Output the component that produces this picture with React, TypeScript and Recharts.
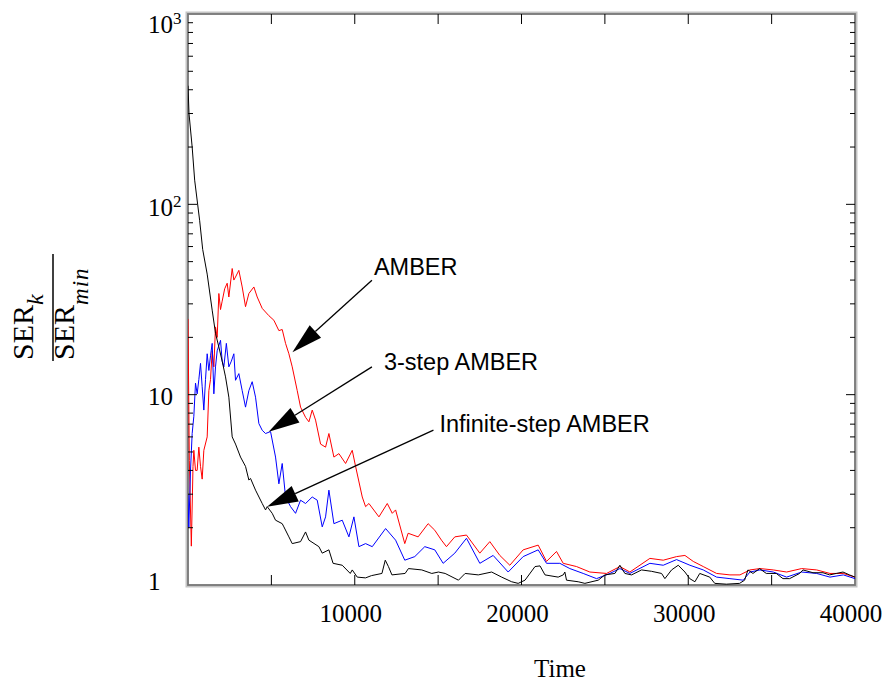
import React from 'react';
import { LineChart, Line, XAxis, YAxis, ReferenceLine, ReferenceArea } from 'recharts';

// ---------------------------------------------------------------------------
// Data (time, SER_k / SER_min)
// ---------------------------------------------------------------------------

const AMBER: [number, number][] = [
  [0, 25], [80, 4.5], [200, 1.6], [300, 4.2], [350, 5.1], [450, 4.0], [550, 4.0],
  [650, 5.3], [750, 4.2], [850, 3.6], [950, 5.1], [1150, 6.0], [1250, 10.5],
  [1350, 12], [1450, 17], [1550, 14], [1650, 22.7], [1750, 20], [1850, 34],
  [1950, 28], [2050, 31], [2200, 36], [2350, 38.5], [2450, 32.6], [2650, 46],
  [2750, 40], [2850, 41.5], [3050, 45], [3250, 36.8], [3450, 29], [3650, 34],
  [3950, 36.8], [4150, 32.6], [4450, 28.4], [4850, 26], [5150, 24.6], [5450, 21.7],
  [5650, 22], [5850, 18.6], [6050, 16.4], [6250, 14], [6550, 10.5], [6750, 8.6],
  [7050, 7.6], [7250, 7.2], [7450, 8.3], [7650, 7.35], [7950, 5.5], [8250, 5.3],
  [8450, 6.25], [8750, 4.7], [9050, 4.9], [9450, 4.35], [9850, 5.1], [10050, 4.2],
  [10450, 2.9], [10650, 2.58], [10850, 2.68], [11450, 2.28], [11950, 2.68],
  [12250, 2.38], [12450, 2.48], [13000, 1.65], [13200, 1.87], [13800, 1.79],
  [14400, 2.1], [14800, 1.94], [15200, 1.72], [15500, 1.59], [16000, 1.79],
  [16700, 1.83], [17500, 1.47], [18100, 1.69], [18700, 1.43], [19300, 1.27],
  [20100, 1.53], [21000, 1.62], [21500, 1.33], [22100, 1.5], [22500, 1.3],
  [23300, 1.25], [24100, 1.17], [25100, 1.15], [25900, 1.25], [26500, 1.17],
  [27700, 1.38], [28500, 1.35], [29300, 1.41], [29800, 1.43], [30300, 1.33],
  [30900, 1.25], [31700, 1.15], [32500, 1.13], [33100, 1.13], [33700, 1.2],
  [34300, 1.22], [35100, 1.2], [35900, 1.17], [36800, 1.22], [37700, 1.2],
  [38500, 1.15], [39300, 1.15], [40000, 1.1],
];

const AMBER_3STEP: [number, number][] = [
  [0, 3.0], [50, 2.0], [150, 4.0], [250, 6.25], [350, 7.7], [450, 11.5], [550, 10.1],
  [650, 12], [750, 14.6], [850, 11], [950, 8.3], [1050, 12], [1150, 16.4],
  [1250, 13.4], [1350, 16], [1450, 18.6], [1550, 10.1], [1650, 14], [1750, 17],
  [1950, 19.3], [2050, 15], [2150, 14], [2300, 18.6], [2450, 14], [2600, 15],
  [2750, 16.4], [2850, 11.9], [3050, 12.9], [3250, 10.5], [3450, 8.6], [3650, 10.5],
  [3850, 11.7], [4050, 9.7], [4250, 7.05], [4450, 6.5], [4650, 6.25], [4950, 6.4],
  [5250, 4.7], [5450, 3.4], [5650, 4.35], [5850, 2.9], [6150, 2.58], [6450, 2.38],
  [6750, 2.79], [7050, 2.68], [7450, 2.9], [7750, 2.79], [8050, 2.02], [8250, 2.28],
  [8450, 3.15], [8750, 2.1], [9250, 2.19], [9650, 1.79], [9950, 2.28], [10250, 1.59],
  [10650, 1.65], [11050, 1.59], [11850, 1.98], [12450, 1.72], [13000, 1.35],
  [13600, 1.41], [14200, 1.59], [14800, 1.53], [15300, 1.3], [16000, 1.47],
  [16700, 1.76], [17500, 1.3], [18300, 1.43], [19200, 1.17], [20100, 1.41],
  [21000, 1.53], [21500, 1.3], [22300, 1.3], [22900, 1.22], [23700, 1.15],
  [24500, 1.08], [25300, 1.15], [25900, 1.22], [26500, 1.15], [27700, 1.3],
  [28500, 1.27], [29300, 1.36], [30100, 1.27], [30900, 1.2], [31700, 1.1],
  [32500, 1.08], [33300, 1.06], [33700, 1.17], [34300, 1.2], [35100, 1.17],
  [35900, 1.1], [36800, 1.17], [37700, 1.15], [38500, 1.1], [39300, 1.13],
  [40000, 1.08],
];

const AMBER_INF: [number, number][] = [
  [0, 420], [60, 300], [250, 200], [400, 134], [700, 82], [880, 58], [1150, 43],
  [1450, 27.8], [1650, 21], [1850, 17.8], [2050, 15], [2250, 12.4], [2450, 9.7],
  [2650, 6.0], [2850, 5.5], [3150, 4.7], [3450, 4.2], [3650, 3.56], [3750, 3.63],
  [4050, 3.15], [4450, 2.68], [4650, 2.48], [4750, 2.58], [5050, 2.38], [5250, 2.19],
  [5650, 2.1], [5750, 2.02], [6050, 1.79], [6250, 1.65], [6750, 1.69], [7050, 1.9],
  [7250, 1.72], [7850, 1.59], [8050, 1.47], [8450, 1.53], [8700, 1.3], [9250, 1.27],
  [9730, 1.15], [9850, 1.2], [10150, 1.1], [10650, 1.09], [11000, 1.12],
  [11630, 1.15], [11830, 1.35], [12020, 1.25], [12230, 1.13], [13020, 1.15],
  [13220, 1.22], [14020, 1.2], [14620, 1.15], [15020, 1.17], [15420, 1.15],
  [16220, 1.06], [16620, 1.15], [17410, 1.13], [18210, 1.17], [18810, 1.1],
  [19410, 1.04], [19800, 1.02], [20210, 1.06], [20810, 1.25], [21110, 1.26],
  [21410, 1.13], [22200, 1.1], [22500, 1.13], [22600, 1.17], [22700, 1.06],
  [23400, 1.04], [23800, 1.02], [24600, 1.06], [25000, 1.13], [25600, 1.15],
  [25900, 1.27], [26200, 1.15], [26600, 1.13], [27200, 1.2], [27800, 1.18],
  [28400, 1.15], [28600, 1.08], [29000, 1.2], [29400, 1.27], [29800, 1.17],
  [30090, 1.08], [30400, 1.04], [30690, 1.15], [31290, 1.1], [31590, 1.02],
  [32290, 1.01], [33080, 1.02], [33380, 1.06], [33580, 1.2], [33880, 1.15],
  [34280, 1.22], [34680, 1.15], [35280, 1.15], [35680, 1.08], [36080, 1.08],
  [36680, 1.15], [36880, 1.2], [37480, 1.16], [38080, 1.16], [38480, 1.13],
  [38880, 1.15], [39280, 1.17], [39670, 1.13], [40000, 1.1],
];

const X_TICKS = [0, 5000, 10000, 15000, 20000, 25000, 30000, 35000, 40000];
const X_LABELS = [10000, 20000, 30000, 40000];
const Y_MAJOR = [1, 10, 100, 1000];
const Y_MINOR = [2, 3, 4, 5, 6, 7, 8, 9, 20, 30, 40, 50, 60, 70, 80, 90, 200, 300, 400, 500, 600, 700, 800, 900];

// annotation: label, tail point (time, value), arrow tip (time, value)
const NOTE_LABELS = ['AMBER', '3-step AMBER', 'Infinite-step AMBER'];
const NOTE_FROM: [number, number][] = [[11030, 39.9], [11030, 14.0], [14720, 6.51]];
const NOTE_TO: [number, number][] = [[6260, 16.7], [4840, 6.38], [4740, 2.58]];

// ---------------------------------------------------------------------------

const W = 885;
const H = 683;
const PLOT_W = 667;
const PLOT_H = 571;
const SERIF = '"Liberation Serif", "Times New Roman", serif';
const SANS = '"Liberation Sans", Arial, sans-serif';

const toRows = (pts: [number, number][]) => pts.map(([t, v]) => ({ t, v }));

const LABEL_BASE: Record<number, number> = { 1: 5, 10: 10, 100: 12, 1000: 19 };
const NOTE_OFFSET: [number, number][] = [[2, -5], [12, 3], [6, 2]];

function YTick(props: any) {
  const { x, y, payload } = props;
  const v = payload.value as number;
  const major = Y_MAJOR.includes(v);
  const len = major ? 9 : 5;
  const edge = v === 1 || v === 1000;
  const exp = v === 100 ? '2' : v === 1000 ? '3' : null;
  return (
    <g>
      {!edge && <line x1={x} y1={y} x2={x + len} y2={y} stroke="#000" strokeWidth={1} />}
      {!edge && <line x1={x + PLOT_W} y1={y} x2={x + PLOT_W - len} y2={y} stroke="#000" strokeWidth={1} />}
      {major && (
        <text x={x - 40} y={y + LABEL_BASE[v]} fontFamily={SERIF} fontSize={25} fill="#000">
          {v === 1 ? '1' : '10'}
          {exp && <tspan fontSize={17} dy={-9}>{exp}</tspan>}
        </text>
      )}
    </g>
  );
}

function XTick(props: any) {
  const { x, y, payload } = props;
  const v = payload.value as number;
  const edge = v === 0 || v === 40000;
  return (
    <g>
      {!edge && <line x1={x} y1={y} x2={x} y2={y - 10} stroke="#000" strokeWidth={1} />}
      {!edge && <line x1={x} y1={y - PLOT_H} x2={x} y2={y - PLOT_H + 10} stroke="#000" strokeWidth={1} />}
      {X_LABELS.includes(v) && (
        <text x={x - 4} y={y + 37} textAnchor="middle" fontFamily={SERIF} fontSize={25} fill="#000">
          {v}
        </text>
      )}
    </g>
  );
}

function Frame(props: any) {
  const { x, y, width, height } = props;
  return (
    <g>
      <rect x={x - 1.5} y={y - 1.5} width={width + 3} height={height + 3} fill="none" stroke="#c4c4c4" strokeWidth={2} />
      <rect x={x} y={y} width={width} height={height} fill="none" stroke="#757575" strokeWidth={1.8} />
    </g>
  );
}

function arrowShape(idx: number) {
  return (p: any) => {
    const { x1, y1, x2, y2 } = p;
    const ang = Math.atan2(y2 - y1, x2 - x1);
    const L = 31;
    const hw = 8.5;
    const bx = x2 - L * Math.cos(ang);
    const by = y2 - L * Math.sin(ang);
    const px = -Math.sin(ang) * hw;
    const py = Math.cos(ang) * hw;
    const [dx, dy] = NOTE_OFFSET[idx];
    return (
      <g>
        <line x1={x1} y1={y1} x2={bx} y2={by} stroke="#000" strokeWidth={1.3} />
        <polygon points={`${x2},${y2} ${bx + px},${by + py} ${bx - px},${by - py}`} fill="#000" />
        <text x={x1 + dx} y={y1 + dy} fontFamily={SANS} fontSize={23.5} fill="#000">
          {NOTE_LABELS[idx]}
        </text>
      </g>
    );
  };
}

export default function App() {
  return (
    <div style={{ position: 'relative', width: W, height: H, background: '#fff' }}>
      <style>{'body{margin:0;background:#fff}'}</style>
      <LineChart width={W} height={H} margin={{ top: 14, right: 30, left: 148, bottom: 0 }}>
        <XAxis
          type="number"
          dataKey="t"
          domain={[0, 40000]}
          ticks={X_TICKS}
          interval={0}
          height={98}
          axisLine={false}
          tickLine={false}
          tickSize={0}
          tickMargin={0}
          tick={<XTick />}
          allowDataOverflow
        />
        <YAxis
          type="number"
          scale="log"
          domain={[1, 1000]}
          ticks={[...Y_MAJOR, ...Y_MINOR]}
          interval={0}
          width={40}
          axisLine={false}
          tickLine={false}
          tickSize={0}
          tickMargin={0}
          tick={<YTick />}
          allowDataOverflow
        />
        <ReferenceArea x1={0} x2={40000} y1={1} y2={1000} shape={<Frame />} ifOverflow="visible" />
        <Line data={toRows(AMBER)} dataKey="v" stroke="#ff0000" strokeWidth={1} dot={false} isAnimationActive={false} />
        <Line data={toRows(AMBER_3STEP)} dataKey="v" stroke="#0000ff" strokeWidth={1} dot={false} isAnimationActive={false} />
        <Line data={toRows(AMBER_INF)} dataKey="v" stroke="#000000" strokeWidth={1} dot={false} isAnimationActive={false} />
        {NOTE_LABELS.map((_, i) => (
          <ReferenceLine
            key={i}
            segment={[
              { x: NOTE_FROM[i][0], y: NOTE_FROM[i][1] },
              { x: NOTE_TO[i][0], y: NOTE_TO[i][1] },
            ]}
            shape={arrowShape(i)}
            ifOverflow="visible"
          />
        ))}
      </LineChart>

      {/* axis titles */}
      <svg width={W} height={H} style={{ position: 'absolute', left: 0, top: 0, pointerEvents: 'none' }}>
        <text x={560} y={677} textAnchor="middle" fontFamily={SERIF} fontSize={25} fill="#000">
          Time
        </text>
        <g transform="translate(53,307) rotate(-90)">
          <line x1={-54} y1={0} x2={53} y2={0} stroke="#000" strokeWidth={1.5} />
          <text x={-53} y={-20} fontFamily={SERIF} fontSize={30} fill="#000">
            SER
            <tspan fontSize={24} fontStyle="italic" dy={10}>k</tspan>
          </text>
          <text x={-53} y={21} fontFamily={SERIF} fontSize={30} fill="#000">
            SER
            <tspan fontSize={23} fontStyle="italic" dy={14} letterSpacing={1}>min</tspan>
          </text>
        </g>
      </svg>
    </div>
  );
}
